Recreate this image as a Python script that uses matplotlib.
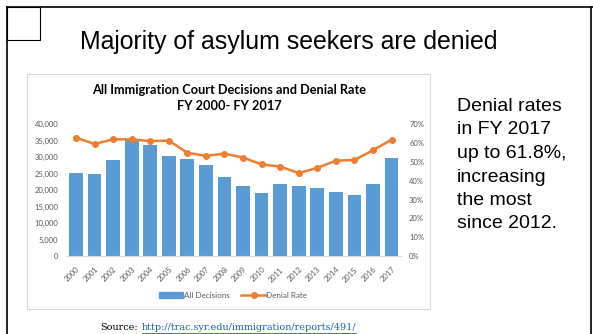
import matplotlib
matplotlib.use("Agg")
from matplotlib import pyplot as plt
from matplotlib.patches import Rectangle
from matplotlib.lines import Line2D

W, H = 593, 334

years = [str(y) for y in range(2000, 2018)]
decisions = [25200, 24800, 29300, 35400, 33600, 30500, 29500, 27500, 23900, 21300,
             19200, 21800, 21300, 20700, 19500, 18400, 22000, 29900]
denial_rate = [62.9, 59.5, 62.0, 62.0, 61.1, 61.3, 54.9, 53.2, 54.4, 52.3,
               48.7, 47.5, 44.1, 46.8, 50.7, 51.0, 56.2, 61.8]
left_ticks = list(range(0, 40001, 5000))
right_ticks = list(range(0, 71, 10))

blue = "#5B9BD5"
orange = "#ED7D31"
grey = "#595959"


def box(x0, y0, x1, y1):
    # pixel coords (top-left origin) -> figure fractions
    return [x0 / W, 1 - y1 / H, (x1 - x0) / W, (y1 - y0) / H]


fig = plt.figure(figsize=(W / 100, H / 100), dpi=100)
fig.patch.set_facecolor("white")

# slide frame
fig.add_artist(Line2D([7 / W, 7 / W], [0, 1 - 7 / H], color="black", lw=1.2))
fig.add_artist(Line2D([7 / W, 1], [1 - 7 / H, 1 - 7 / H], color="black", lw=1.2))
fig.add_artist(Line2D([591 / W, 591 / W], [0, 1 - 7 / H], color="black", lw=1.2))
fig.add_artist(Rectangle((7 / W, 1 - 40 / H), 33 / W, 33 / H, fill=False,
                         edgecolor="black", lw=0.8, transform=fig.transFigure))

fig.text(288.5 / W, 1 - 42 / H, "Majority of asylum seekers are denied",
         family="Liberation Sans", fontsize=17.9, ha="center", va="center")

# chart box
fig.add_artist(Rectangle((27 / W, 1 - 309 / H), 403 / W, 235 / H, fill=False,
                         edgecolor="#D9D9D9", lw=0.8, transform=fig.transFigure))
fig.text(229 / W, 1 - 90 / H, "All Immigration Court Decisions and Denial Rate",
         family="Lato", weight="bold", fontsize=9.2, ha="center", va="center")
fig.text(229 / W, 1 - 106 / H, "FY 2000- FY 2017",
         family="Lato", weight="bold", fontsize=9.2, ha="center", va="center")

ax = fig.add_axes(box(66.7, 124.3, 400.8, 256))
x = range(len(years))
ax.bar(x, decisions, width=0.74, color=blue, zorder=2)
ax.set_xlim(-0.5, len(years) - 0.5)
ax.set_ylim(0, 40000)
ax.set_yticks(left_ticks)
ax.set_yticklabels([f"{v:,}" for v in left_ticks])
ax.set_xticks(list(x))
ax.set_xticklabels(years, rotation=45, ha="right", rotation_mode="anchor")
for s in ["top", "left", "right"]:
    ax.spines[s].set_visible(False)
ax.spines["bottom"].set_color("#D9D9D9")
ax.tick_params(axis="y", length=0, labelsize=5.5, colors=grey, pad=6)
ax.tick_params(axis="x", length=0, labelsize=5.5, colors=grey, pad=7)
for lab in ax.get_xticklabels() + ax.get_yticklabels():
    lab.set_family("Lato")

ax2 = ax.twinx()
ax2.plot(x, denial_rate, color=orange, lw=1.8, marker="o", ms=4, zorder=3)
ax2.set_ylim(0, 70)
ax2.set_yticks(right_ticks)
ax2.set_yticklabels([f"{v}%" for v in right_ticks])
for s in ["top", "left", "right", "bottom"]:
    ax2.spines[s].set_visible(False)
ax2.tick_params(length=0, labelsize=5.5, colors=grey, pad=6)
for lab in ax2.get_yticklabels():
    lab.set_family("Lato")

# legend
leg_handles = [Rectangle((0, 0), 1, 1, color=blue),
               Line2D([0], [0], color=orange, lw=1.8, marker="o", ms=4)]
fig.legend(leg_handles, ["All Decisions", "Denial Rate"], loc="center",
           bbox_to_anchor=(233 / W, 1 - 295 / H), ncol=2, frameon=False,
           prop={"family": "Lato", "size": 5.8}, labelcolor=grey,
           handlelength=3, handletextpad=0.1, columnspacing=1.5)

side = "Denial rates\nin FY 2017\nup to 61.8%,\nincreasing\nthe most\nsince 2012."
fig.text(457 / W, 1 - 98 / H, side, family="Liberation Sans", fontsize=14,
         ha="left", va="top", linespacing=1.5)

# source line
src = fig.text(100 / W, 1 - 328 / H, "Source:", family="DejaVu Serif",
               fontsize=6.9, ha="left", va="center")
fig.canvas.draw()
sb = src.get_window_extent()
link = fig.text((sb.x1 + 4) / W, 1 - 328 / H,
                "http://trac.syr.edu/immigration/reports/491/",
                family="DejaVu Serif", fontsize=6.9, ha="left", va="center",
                color="#1F5FBF")
fig.canvas.draw()
bb = link.get_window_extent()
fig.add_artist(Line2D([bb.x0 / W, bb.x1 / W], [1 - 333 / H, 1 - 333 / H],
                      color="#1F5FBF", lw=0.6))

fig.savefig("out.png", dpi=100)
